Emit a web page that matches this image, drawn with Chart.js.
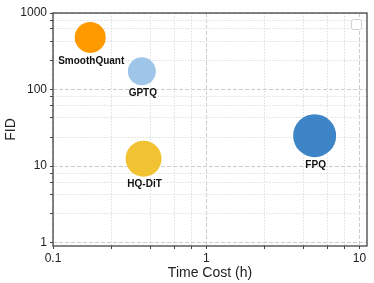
<!DOCTYPE html>
<html>
<head>
<meta charset="utf-8">
<script src="https://cdn.jsdelivr.net/npm/chart.js@4/dist/chart.umd.min.js"></script>
<style>
  body { margin: 0; background: #fff; }
  #wrap { width: 374px; height: 283px; }
</style>
</head>
<body>
<div id="wrap"><canvas id="myChart"></canvas></div>
<script>
// data
const methods = ['SmoothQuant', 'GPTQ', 'HQ-DiT', 'FPQ'];
const timeCost = [0.175, 0.38, 0.39, 5.1];
const fid = [480, 173, 12.5, 25];
const bubbleRadius = [15.5, 14, 18, 21.5];
const colors = ['#FF9900', '#9FC5E8', '#F1C232', '#3D85C6'];

const xTickValues = [0.1, 1, 10];
const xTickLabels = ['0.1', '1', '10'];
const yTickValues = [1, 10, 100, 1000];
const yTickLabels = ['1', '10', '100', '1000'];
const minorSteps = [2.4, 4.3, 6.2, 8.0];

function buildTicks(majors) {
  let out = [];
  majors.forEach((m, i) => {
    out.push({ value: m });
    if (i < majors.length - 1) {
      minorSteps.forEach(s => out.push({ value: m * s }));
    }
  });
  return out;
}

function isMajor(v, majors) {
  return majors.some(m => Math.abs(v - m) / m < 1e-6);
}

function labelFor(v, majors, labels) {
  for (let i = 0; i < majors.length; i++) {
    if (Math.abs(v - majors[i]) / majors[i] < 1e-6) return labels[i];
  }
  return '';
}

// frame, empty legend box and the point labels
const extras = {
  id: 'extras',
  afterDraw(chart) {
    const ctx = chart.ctx;
    const a = chart.chartArea;
    ctx.save();

    // labels under the bubbles
    const meta = chart.getDatasetMeta(0);
    ctx.font = 'bold 10px "Liberation Sans", Arial, sans-serif';
    ctx.fillStyle = '#111';
    ctx.textAlign = 'center';
    ctx.textBaseline = 'middle';
    meta.data.forEach((pt, i) => {
      ctx.fillText(methods[i], pt.x + 1, pt.y + bubbleRadius[i] + 8);
    });

    // empty legend
    ctx.strokeStyle = '#cfcfcf';
    ctx.lineWidth = 1;
    ctx.fillStyle = '#fff';
    ctx.beginPath();
    ctx.roundRect(a.right - 15.5, a.top + 6.5, 10, 10, 2);
    ctx.fill();
    ctx.stroke();

    // frame
    ctx.strokeStyle = '#444';
    ctx.lineWidth = 1.3;
    ctx.strokeRect(a.left, a.top, a.right - a.left, a.bottom - a.top);
    ctx.restore();
  }
};

const data = {
  datasets: [{
    label: 'methods',
    data: methods.map((m, i) => ({ x: timeCost[i], y: fid[i], r: bubbleRadius[i] })),
    backgroundColor: colors,
    borderColor: colors,
    borderWidth: 0,
  }]
};

const config = {
  type: 'bubble',
  data: data,
  plugins: [extras],
  options: {
    animation: false,
    responsive: true,
    maintainAspectRatio: false,
    layout: { autoPadding: false, padding: { left: 0, right: 7, top: 13, bottom: 0 } },
    scales: {
      x: {
        type: 'logarithmic',
        min: 0.1,
        max: 11.2,
        afterBuildTicks: s => { s.ticks = buildTicks(xTickValues); },
        afterFit: s => { s.height = 37; },
        ticks: {
          autoSkip: false,
          maxRotation: 0,
          padding: 2,
          color: '#222',
          font: { size: 12, family: '"Liberation Sans", Arial, sans-serif' },
          callback: v => labelFor(v, xTickValues, xTickLabels)
        },
        grid: {
          color: c => isMajor(c.tick.value, xTickValues) ? '#cdcdcd' : '#dedede',
          tickLength: 3,
          tickColor: '#444',
        },
        border: {
          display: false,
          dash: c => (c.tick && isMajor(c.tick.value, xTickValues)) ? [4, 2] : [1.5, 1.5]
        },
        title: {
          display: true,
          text: 'Time Cost (h)',
          color: '#222',
          font: { size: 14, family: '"Liberation Sans", Arial, sans-serif' },
          padding: { top: 0, bottom: 1 }
        }
      },
      y: {
        type: 'logarithmic',
        min: 0.905,
        max: 1000,
        afterBuildTicks: s => { s.ticks = buildTicks(yTickValues); },
        afterFit: s => { s.width = 53; },
        ticks: {
          autoSkip: false,
          padding: 3,
          color: '#222',
          font: { size: 12, family: '"Liberation Sans", Arial, sans-serif' },
          callback: v => labelFor(v, yTickValues, yTickLabels)
        },
        grid: {
          color: c => isMajor(c.tick.value, yTickValues) ? '#cdcdcd' : '#dedede',
          tickLength: 3,
          tickColor: '#444',
        },
        border: {
          display: false,
          dash: c => (c.tick && isMajor(c.tick.value, yTickValues)) ? [4, 2] : [1.5, 1.5]
        },
        title: {
          display: true,
          text: 'FID',
          color: '#222',
          font: { size: 14, family: '"Liberation Sans", Arial, sans-serif' },
          padding: { top: 3, bottom: 0 }
        }
      }
    },
    plugins: {
      legend: { display: false },
      tooltip: { enabled: false }
    }
  }
};

const myChart = new Chart(document.getElementById('myChart'), config);
</script>
</body>
</html>
